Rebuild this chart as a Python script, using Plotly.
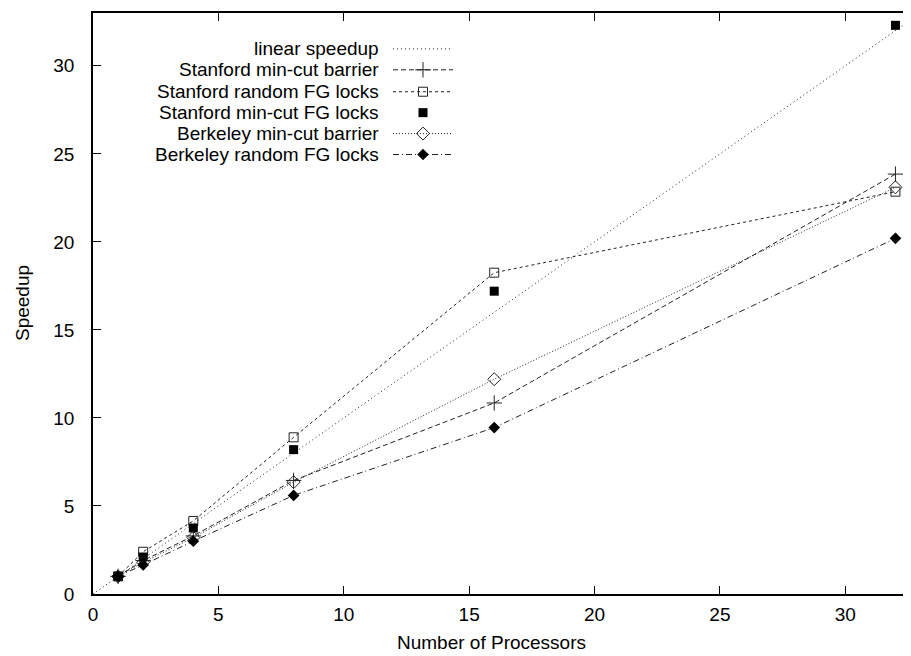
import plotly.graph_objects as go

# ---------------- data ----------------
procs = [1, 2, 4, 8, 16, 32]
linear_x = [0, 35]
linear_y = [0, 35]
stanford_mincut_barrier = [1.0, 1.9, 3.3, 6.45, 10.85, 23.85]
stanford_random_fg = [1.0, 2.4, 4.15, 8.9, 18.25, 22.85]
stanford_mincut_fg = [1.0, 2.1, 3.75, 8.2, 17.2, 32.3]
berkeley_mincut_barrier = [1.0, 1.8, 3.2, 6.35, 12.2, 23.1]
berkeley_random_fg = [1.0, 1.65, 3.0, 5.6, 9.45, 20.2]

series_names = [
    "linear speedup",
    "Stanford min-cut barrier",
    "Stanford random FG locks",
    "Stanford min-cut FG locks",
    "Berkeley min-cut barrier",
    "Berkeley random FG locks",
]
x_ticks = [0, 5, 10, 15, 20, 25, 30]
y_ticks = [0, 5, 10, 15, 20, 25, 30]

# ---------------- styles ----------------
FONT = "Liberation Sans, Arial, Helvetica, sans-serif"
FS = 19
LC = "#222"
styles = [
    dict(mode="lines", dash="1px,3px", marker=None),
    dict(mode="lines+markers", dash="5px,3px",
         marker=dict(symbol="cross-thin", size=11, color=LC, line=dict(width=1, color=LC))),
    dict(mode="lines+markers", dash="3px,3px",
         marker=dict(symbol="square-open", size=9, color=LC, line=dict(width=1, color=LC))),
    dict(mode="markers", dash=None,
         marker=dict(symbol="square", size=9, color="black", line=dict(width=0))),
    dict(mode="lines+markers", dash="1px,2px",
         marker=dict(symbol="diamond-open", size=10, color=LC, line=dict(width=1, color=LC))),
    dict(mode="lines+markers", dash="6px,3px,1px,3px",
         marker=dict(symbol="diamond", size=9, color="black", line=dict(width=0))),
]
data_sets = [
    (linear_x, linear_y),
    (procs, stanford_mincut_barrier),
    (procs, stanford_random_fg),
    (procs, stanford_mincut_fg),
    (procs, berkeley_mincut_barrier),
    (procs, berkeley_random_fg),
]

fig = go.Figure()
for name, (xs, ys), st in zip(series_names, data_sets, styles):
    kw = dict(x=xs, y=ys, name=name, mode=st["mode"], showlegend=False,
              cliponaxis=True, hoverinfo="x+y+name")
    if st["dash"]:
        kw["line"] = dict(color=LC, width=1, dash=st["dash"])
    if st["marker"]:
        kw["marker"] = st["marker"]
    fig.add_trace(go.Scatter(**kw))

# ---------------- layout geometry (window pixels) ----------------
OFF = 8                      # default page body margin
W, H = 911, 656 - OFF
L, R, T, B = 93, 911, 11, 594  # plot area in window pixels


def px_to_paper(px, py):
    return (px - L) / (R - L), (B - py) / (B - T)


# ---------------- custom gnuplot-style key (overlay axes in window pixels) ----------------
key_text_right = 381
key_x0, key_x1 = 393, 453
key_rows = [47, 68, 90, 111, 132, 153]
annotations = []
for name, st, yy in zip(series_names, styles, key_rows):
    if st["dash"]:
        fig.add_trace(go.Scatter(x=[key_x0, key_x1], y=[yy, yy], mode="lines",
                                 line=dict(color=LC, width=1, dash=st["dash"]),
                                 xaxis="x2", yaxis="y2", showlegend=False, hoverinfo="skip"))
    if st["marker"]:
        fig.add_trace(go.Scatter(x=[(key_x0 + key_x1) / 2], y=[yy], mode="markers",
                                 marker=st["marker"], xaxis="x2", yaxis="y2",
                                 showlegend=False, hoverinfo="skip"))
    annotations.append(dict(x=key_text_right, y=yy, xref="x2", yref="y2", text=name,
                            showarrow=False, xanchor="right", yanchor="middle",
                            font=dict(family=FONT, size=FS, color="black")))

# axis titles (paper refs, may lie outside the plot area)
tx, ty = px_to_paper(491, 643)
annotations.append(dict(x=tx, y=ty, xref="paper", yref="paper", text="Number of Processors",
                        showarrow=False, xanchor="center", yanchor="middle",
                        font=dict(family=FONT, size=FS, color="black")))
sx, sy = px_to_paper(22, 302)
annotations.append(dict(x=sx, y=sy, xref="paper", yref="paper",
                        text="Speedup", textangle=-90, showarrow=False,
                        xanchor="center", yanchor="middle",
                        font=dict(family=FONT, size=FS, color="black")))

fig.update_layout(
    width=W, height=H,
    margin=dict(l=L - OFF, r=W - (R - OFF), t=T - OFF, b=H - (B - OFF), pad=0),
    paper_bgcolor="white", plot_bgcolor="white",
    font=dict(family=FONT, size=FS, color="black"),
    xaxis=dict(range=[0, 32.62], tickvals=x_ticks, ticktext=[str(v) for v in x_ticks],
               ticks="inside", ticklen=8, tickwidth=1, tickcolor="black",
               showline=True, linecolor="black", linewidth=1.5, mirror="ticks",
               showgrid=False, zeroline=False, ticklabelstandoff=2,
               tickfont=dict(family=FONT, size=FS, color="black")),
    yaxis=dict(range=[0, 33], tickvals=y_ticks, ticktext=[str(v) for v in y_ticks],
               ticks="inside", ticklen=8, tickwidth=1, tickcolor="black",
               showline=True, linecolor="black", linewidth=1.5, mirror=False,
               showgrid=False, zeroline=False, ticklabelstandoff=13,
               tickfont=dict(family=FONT, size=FS, color="black")),
    xaxis2=dict(range=[L, R], overlaying="x", visible=False, fixedrange=True),
    yaxis2=dict(range=[B, T], overlaying="y", visible=False, fixedrange=True),
    annotations=annotations,
    showlegend=False,
)

fig.write_html("out.html")
